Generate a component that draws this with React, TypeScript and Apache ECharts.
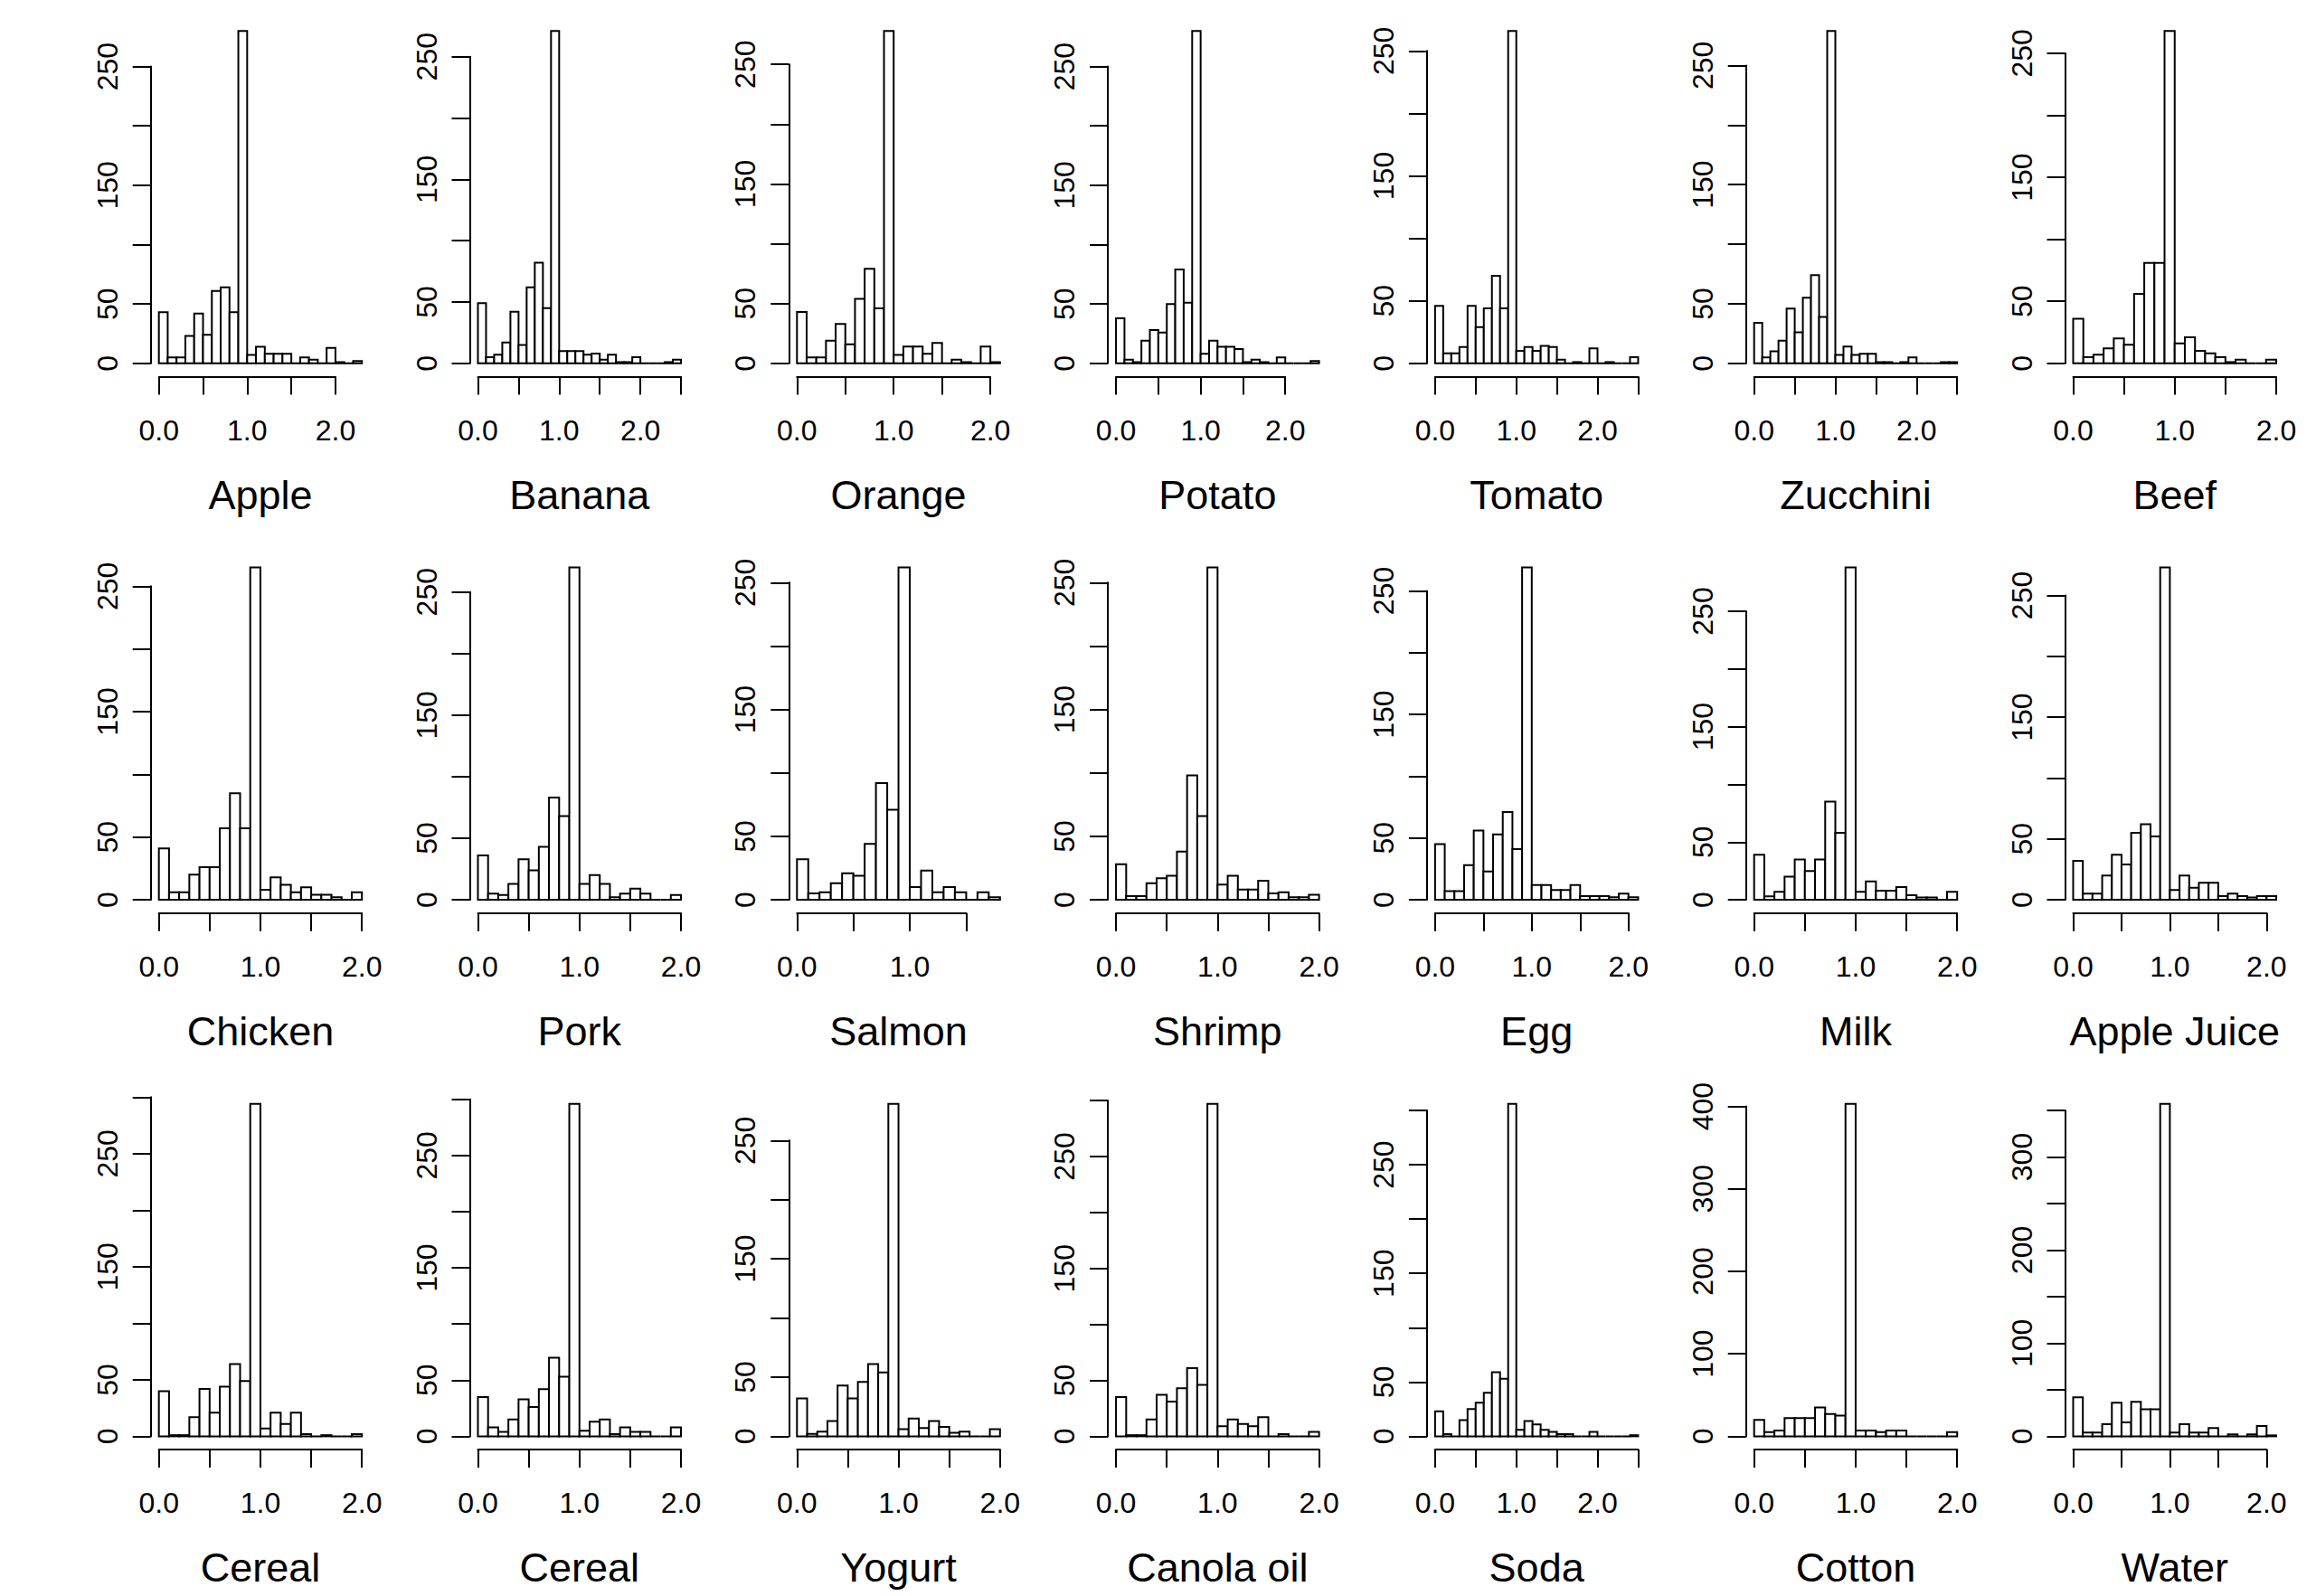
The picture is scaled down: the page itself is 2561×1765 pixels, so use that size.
import React, { useEffect, useRef } from "react";
import * as echarts from "echarts";

// ---------- data ----------
const panelNames = [
  "Apple", "Banana", "Orange", "Potato", "Tomato", "Zucchini", "Beef",
  "Chicken", "Pork", "Salmon", "Shrimp", "Egg", "Milk", "Apple Juice",
  "Cereal", "Cereal", "Yogurt", "Canola oil", "Soda", "Cotton", "Water",
];

// histogram counts, bins of width 0.1 starting at 0
const apple = [43, 5, 5, 23, 42, 24, 61, 64, 43, 280, 7, 14, 8, 8, 8, 0, 5, 3, 0, 13, 1, 0, 2];
const banana = [49, 5, 7, 17, 42, 15, 62, 82, 45, 271, 10, 10, 10, 7, 8, 3, 7, 1, 1, 5, 0, 0, 0, 1, 3];
const orange = [43, 5, 5, 19, 33, 16, 54, 79, 46, 278, 7, 14, 14, 8, 17, 0, 3, 1, 0, 14, 1];
const potato = [38, 3, 1, 19, 28, 26, 50, 79, 51, 280, 8, 19, 14, 14, 12, 1, 3, 1, 0, 5, 0, 0, 0, 2];
const tomato = [46, 8, 8, 13, 46, 29, 44, 70, 44, 266, 10, 13, 10, 14, 13, 3, 0, 1, 0, 12, 0, 1, 0, 0, 5];
const zucchini = [34, 5, 10, 19, 46, 26, 55, 74, 39, 279, 7, 14, 7, 8, 8, 1, 1, 0, 1, 5, 0, 0, 0, 1, 1];
const beef = [36, 5, 7, 12, 20, 15, 56, 81, 81, 268, 16, 21, 10, 8, 5, 1, 3, 0, 0, 3];
const chicken = [41, 6, 6, 20, 26, 26, 57, 85, 57, 265, 8, 18, 12, 6, 10, 4, 4, 2, 0, 6];
const pork = [36, 5, 4, 13, 33, 24, 43, 83, 68, 270, 13, 20, 13, 2, 5, 9, 5, 0, 0, 4];
const salmon = [32, 5, 6, 13, 21, 19, 44, 92, 71, 262, 10, 23, 6, 10, 6, 0, 6, 2];
const shrimp = [28, 3, 3, 13, 17, 19, 38, 98, 66, 262, 12, 19, 8, 8, 15, 5, 6, 2, 2, 4];
const egg = [45, 7, 7, 28, 56, 23, 53, 71, 41, 269, 12, 12, 8, 8, 12, 3, 3, 3, 2, 5, 2];
const milk = [39, 3, 7, 20, 35, 25, 35, 85, 58, 288, 7, 16, 8, 8, 11, 4, 2, 2, 0, 7];
const appleJuice = [32, 5, 5, 20, 37, 29, 55, 62, 52, 273, 8, 20, 10, 14, 14, 3, 5, 3, 2, 3, 3];
const cereal1 = [40, 1, 1, 17, 42, 21, 44, 64, 49, 294, 7, 21, 11, 21, 2, 0, 1, 0, 0, 2];
const cereal2 = [35, 8, 4, 15, 33, 26, 42, 70, 53, 296, 5, 13, 15, 2, 8, 4, 4, 0, 0, 8];
const yogurt = [32, 2, 4, 13, 43, 32, 46, 61, 54, 281, 6, 15, 7, 13, 8, 3, 4, 0, 0, 6];
const canolaOil = [35, 1, 1, 15, 37, 31, 43, 61, 46, 297, 9, 15, 11, 9, 17, 0, 2, 0, 0, 4];
const soda = [23, 2, 0, 15, 25, 31, 40, 59, 53, 306, 6, 14, 11, 6, 4, 2, 2, 0, 0, 4, 0, 0, 0, 0, 1];
const cotton = [20, 5, 7, 22, 22, 22, 35, 27, 25, 403, 7, 7, 5, 7, 7, 0, 0, 0, 0, 5];
const water = [42, 4, 4, 13, 36, 15, 37, 29, 29, 357, 4, 13, 4, 4, 9, 0, 2, 0, 2, 11, 1];

const panelCounts = [
  apple, banana, orange, potato, tomato, zucchini, beef,
  chicken, pork, salmon, shrimp, egg, milk, appleJuice,
  cereal1, cereal2, yogurt, canolaOil, soda, cotton, water,
];

const binWidth = 0.1;
const xTickStep = 0.5;
const xLabelValues = [0, 1, 2];
const yTickSteps = [
  50, 50, 50, 50, 50, 50, 50,
  50, 50, 50, 50, 50, 50, 50,
  50, 50, 50, 50, 50, 100, 50,
];
const stdYLabels = [0, 50, 150, 250];
const cottonYLabels = [0, 100, 200, 300, 400];
const waterYLabels = [0, 100, 200, 300];
const yLabelValues = [
  stdYLabels, stdYLabels, stdYLabels, stdYLabels, stdYLabels, stdYLabels, stdYLabels,
  stdYLabels, stdYLabels, stdYLabels, stdYLabels, stdYLabels, stdYLabels, stdYLabels,
  stdYLabels, stdYLabels, stdYLabels, stdYLabels, stdYLabels, cottonYLabels, waterYLabels,
];

// ---------- layout / style ----------
const FONT = "'Liberation Sans', Arial, Helvetica, sans-serif";
const LAYOUT = {
  left0: 166.7,
  colStep: 352.8,
  bottom0: 416.5,
  rowStep: 593.3,
  width: 242.5,
  height: 397,
  pad: 0.04,
  cols: 7,
};
const LINE_W = 2;
const TICK_LEN = 20;
const TICK_FONT = 32;
const TITLE_FONT = 45;

function buildOption() {
  const grid: any[] = [];
  const xAxis: any[] = [];
  const yAxis: any[] = [];
  const series: any[] = [];

  panelCounts.forEach((counts, i) => {
    const r = Math.floor(i / LAYOUT.cols);
    const c = i % LAYOUT.cols;
    const L = LAYOUT.left0 + c * LAYOUT.colStep;
    const B = LAYOUT.bottom0 + r * LAYOUT.rowStep;
    const W = LAYOUT.width;
    const H = LAYOUT.height;
    const T = B - H;
    const M = Math.max(...counts);
    const R = counts.length * binWidth;
    const xMin = -LAYOUT.pad * R;
    const xMax = (1 + LAYOUT.pad) * R;
    const yMin = -LAYOUT.pad * M;
    const yMax = (1 + LAYOUT.pad) * M;
    const xpx = (v: number) => L + ((v - xMin) / (xMax - xMin)) * W;
    const ypx = (u: number) => B - ((u - yMin) / (yMax - yMin)) * H;
    const step = yTickSteps[i];
    const yTop = Math.floor(yMax / step + 1e-9) * step;
    const xTop = Math.floor(xMax / xTickStep + 1e-9) * xTickStep;
    const labels = yLabelValues[i];

    const g = grid.length;
    // data grid (plot region)
    grid.push({ left: L, top: T, width: W, height: H, outerBoundsMode: "none", containLabel: false });
    // y axis grid
    grid.push({
      left: L, top: ypx(yTop), width: W, height: ypx(0) - ypx(yTop),
      outerBoundsMode: "none", containLabel: false,
    });
    // x axis grid
    grid.push({
      left: xpx(0), top: B - 10, width: xpx(xTop) - xpx(0), height: 10,
      outerBoundsMode: "none", containLabel: false,
    });

    // data grid axes
    xAxis.push({
      type: "value", gridIndex: g, min: xMin, max: xMax,
      axisLine: { show: false }, axisTick: { show: false },
      axisLabel: { show: false }, splitLine: { show: false },
      name: panelNames[i], nameLocation: "middle", nameGap: 108,
      nameTextStyle: { fontSize: TITLE_FONT, color: "#000", fontFamily: FONT },
    });
    yAxis.push({ type: "value", gridIndex: g, min: yMin, max: yMax, show: false });

    // y axis grid axes
    xAxis.push({ type: "value", gridIndex: g + 1, min: 0, max: 1, show: false });
    yAxis.push({
      type: "value", gridIndex: g + 1, min: 0, max: yTop, interval: step,
      position: "left",
      axisLine: { show: true, onZero: false, lineStyle: { color: "#000", width: LINE_W } },
      axisTick: { show: true, inside: false, length: TICK_LEN, lineStyle: { color: "#000", width: LINE_W } },
      splitLine: { show: false },
      axisLabel: {
        show: true, rotate: 90, margin: 32, fontSize: TICK_FONT, color: "#000", fontFamily: FONT,
        showMinLabel: true, showMaxLabel: true,
        formatter: (v: number) => (labels.some((l) => Math.abs(l - v) < 1e-6) ? String(v) : ""),
      },
    });

    // x axis grid axes
    yAxis.push({ type: "value", gridIndex: g + 2, min: 0, max: 1, show: false });
    xAxis.push({
      type: "value", gridIndex: g + 2, min: 0, max: xTop, interval: xTickStep,
      position: "bottom",
      axisLine: { show: true, onZero: false, lineStyle: { color: "#000", width: LINE_W } },
      axisTick: { show: true, inside: false, length: TICK_LEN, lineStyle: { color: "#000", width: LINE_W } },
      splitLine: { show: false },
      axisLabel: {
        show: true, margin: 43, fontSize: TICK_FONT, color: "#000", fontFamily: FONT,
        showMinLabel: true, showMaxLabel: true,
        formatter: (v: number) =>
          xLabelValues.some((l) => Math.abs(l - v) < 1e-6) ? v.toFixed(1) : "",
      },
    });

    series.push({
      type: "custom",
      xAxisIndex: g,
      yAxisIndex: g,
      clip: false,
      encode: { x: [0, 1], y: 2 },
      data: counts.map((n, k) => [k * binWidth, (k + 1) * binWidth, n]),
      renderItem: (params: any, api: any) => {
        const p0 = api.coord([api.value(0), api.value(2)]);
        const p1 = api.coord([api.value(1), 0]);
        return {
          type: "rect",
          shape: { x: p0[0], y: p0[1], width: p1[0] - p0[0], height: p1[1] - p0[1] },
          style: { fill: "#ffffff", stroke: "#000000", lineWidth: LINE_W },
        };
      },
    });
  });

  return {
    animation: false,
    backgroundColor: "#ffffff",
    textStyle: { fontFamily: FONT },
    grid,
    xAxis,
    yAxis,
    series,
  };
}

export default function App() {
  const ref = useRef<HTMLDivElement>(null);
  useEffect(() => {
    if (!ref.current) return;
    const chart = echarts.init(ref.current, null, { renderer: "svg" });
    chart.setOption(buildOption() as any);
    return () => chart.dispose();
  }, []);
  return (
    <div
      ref={ref}
      style={{ position: "absolute", left: 0, top: 0, width: 2561, height: 1765, background: "#fff" }}
    />
  );
}
